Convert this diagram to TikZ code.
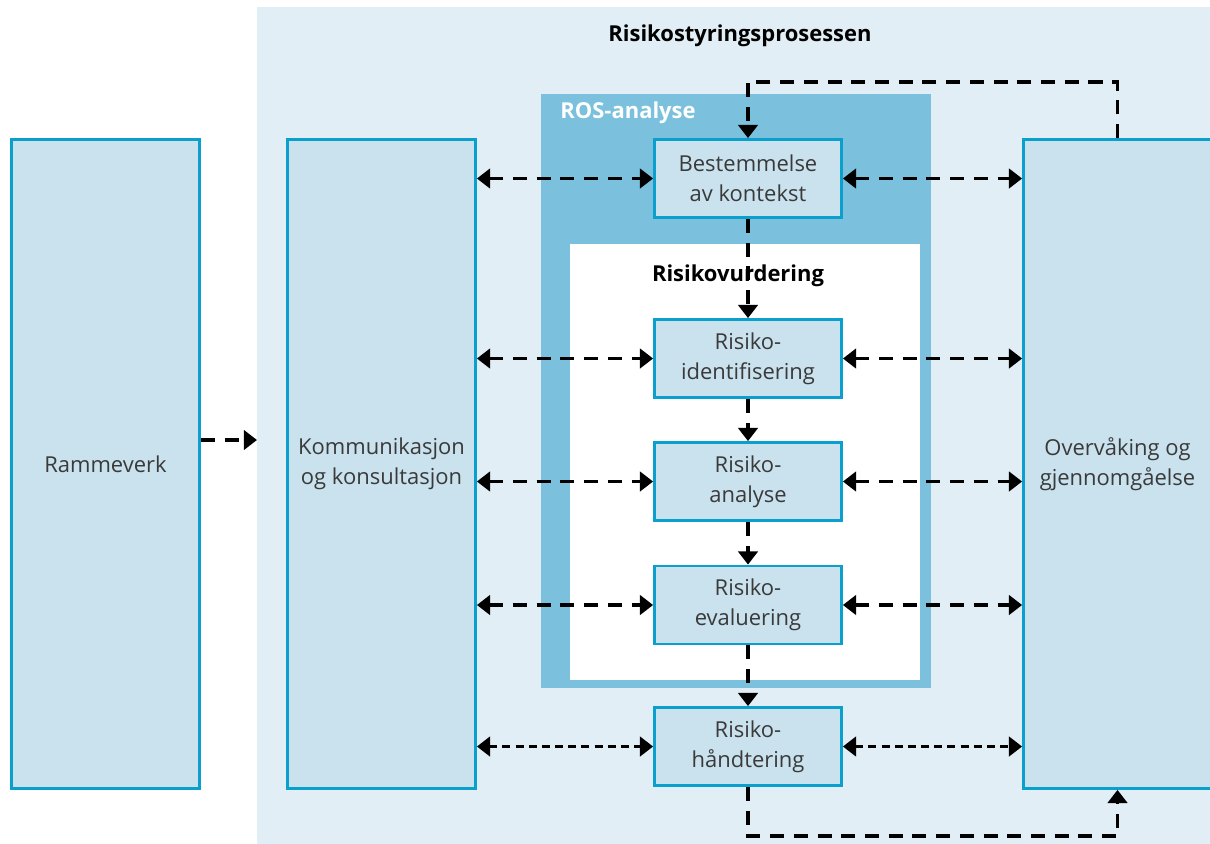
\documentclass[tikz,border=0pt]{standalone}
\usepackage{fontspec}
\setmainfont{Open Sans}
\usetikzlibrary{arrows.meta}
\definecolor{panel}{HTML}{E1EEF5}
\definecolor{boks}{HTML}{C9E2EE}
\definecolor{kant}{HTML}{0A9FCC}
\definecolor{ros}{HTML}{7BC1DD}
\definecolor{tekst}{HTML}{3A3A3A}

\tikzset{
  every box/.style={draw=kant, fill=boks, line width=1.6pt, text=tekst,
    align=center, inner sep=0pt, font=\fontsize{12.5}{17}\selectfont},
  tall box/.style={every box, minimum width=3.76cm, minimum height=12.98cm},
  step box/.style={every box, minimum width=3.74cm, minimum height=1.56cm},
  heading/.style={inner sep=0pt, font=\bfseries\fontsize{12.5}{15}\selectfont},
  flow/.style={line width=1.9pt, dash pattern=on 8pt off 5.5pt},
  fine flow/.style={line width=1.9pt, dash pattern=on 4.5pt off 3pt}
}

\begin{document}
\begin{tikzpicture}[x=0.02cm, y=-0.02cm, >={Triangle[length=7.5pt,width=11pt]}]

\useasboundingbox (0,0) rectangle (1210,843);

% bakgrunnsflater
\fill[panel] (257,7) rectangle (1230,860);
\fill[ros] (541,94) rectangle (931,688);
\fill[white] (570,244) rectangle (920,680);

\node[heading] (prosess-tittel) at (740,36) {Risikostyringsprosessen};
\node[heading, text=white] (ros-tittel) at (628,113) {ROS-analyse};
\node[heading] (vurdering-tittel) at (738,276) {Risikovurdering};

\node[tall box] (ramme) at (105.5,464) {Rammeverk};
\node[tall box] (komm) at (381.5,464) {Kommunikasjon\\og konsultasjon};
\node[tall box] (overv) at (1117.5,464) {Overvåking og\\gjennomgåelse};

\foreach \navn/\y/\txt in {best/178.5/{Bestemmelse\\av kontekst},
    ident/358.5/{Risiko-\\identifisering}, anal/481.5/{Risiko-\\analyse},
    eval/605/{Risiko-\\evaluering}, hand/746.5/{Risiko-\\håndtering}}
  \node[step box] (\navn) at (748,\y) {\txt};

% rammeverk inn i prosessen
\coordinate (ramme-pil) at (257,440);
\draw[flow,->] (ramme.east |- ramme-pil) -- (ramme-pil);

% dialog med kommunikasjon og overvåking
\foreach \navn in {best,ident,anal,eval}
  {
  \draw[flow,<->] (komm.east |- \navn) -- (\navn.west);
  \draw[flow,<->] (\navn.east) -- (overv.west |- \navn);
  }
\draw[fine flow,<->] (komm.east |- hand) -- (hand.west);
\draw[fine flow,<->] (hand.east) -- (overv.west |- hand);

% trinnene nedover
\foreach \a/\b in {best/ident,ident/anal,anal/eval,eval/hand}
  \draw[flow,->] (\a) -- (\b);

% tilbakekoblinger
\coordinate (topp) at (0,82);
\coordinate (bunn) at (0,836);
\draw[flow,->] (overv.north) -- (overv.north |- topp) -- (best.north |- topp) -- (best.north);
\draw[flow,->] (hand.south) -- (hand.south |- bunn) -- (overv.south |- bunn) -- (overv.south);

\end{tikzpicture}
\end{document}
